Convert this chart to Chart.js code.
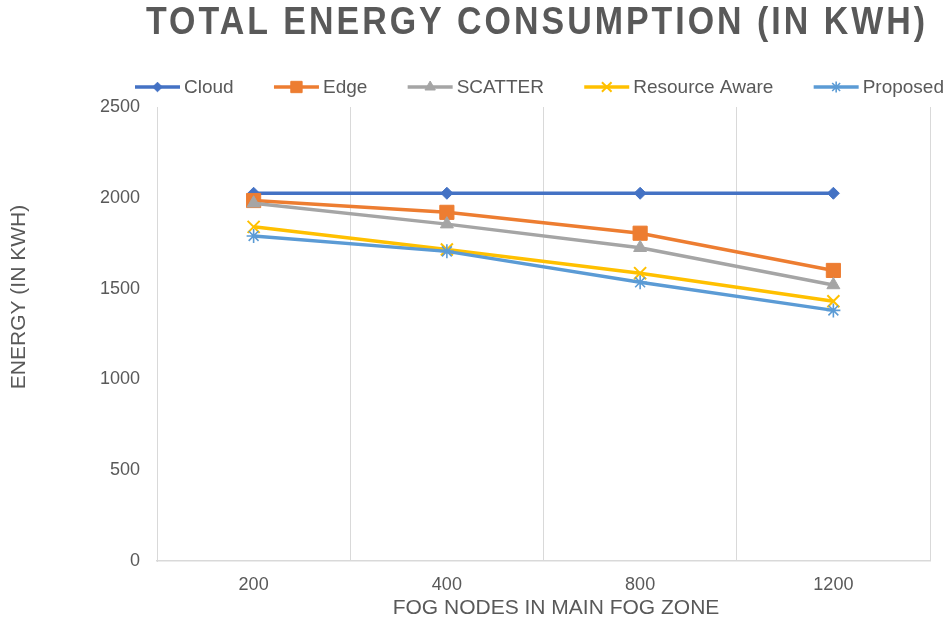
<!DOCTYPE html>
<html>
<head>
<meta charset="utf-8">
<script src="https://cdn.jsdelivr.net/npm/chart.js@4.4.1/dist/chart.umd.min.js"></script>
<style>
  html, body { margin: 0; padding: 0; background: #ffffff; }
  #wrap { width: 947px; height: 623px; position: relative; }
</style>
</head>
<body>
<div id="wrap"><canvas id="c" width="947" height="623"></canvas></div>
<script>
// Fog node counts in the main fog zone
const categories = ['200', '400', '800', '1200'];

// Energy consumption per approach (kWh)
const cloud         = [2025, 2025, 2025, 2025];
const edge          = [1985, 1920, 1805, 1600];
const scatter       = [1970, 1855, 1725, 1520];
const resourceAware = [1840, 1715, 1585, 1430];
const proposed      = [1790, 1705, 1535, 1380];

const seriesNames = ['Cloud', 'Edge', 'SCATTER', 'Resource Aware', 'Proposed'];
const yTicks = [0, 500, 1000, 1500, 2000, 2500];

const chartTitle = 'TOTAL ENERGY CONSUMPTION (IN KWH)';
const xTitle = 'FOG NODES IN MAIN FOG ZONE';
const yTitle = 'ENERGY (IN KWH)';

const TEXT = '#595959';
const GRID = '#d9d9d9';
const FONT = "'Liberation Sans', Arial, sans-serif";

const styles = [
  { color: '#4472C4', pointStyle: 'rectRot',  radius: 6,   borderWidth: 1 },
  { color: '#ED7D31', pointStyle: 'rect',     radius: 10,  borderWidth: 1 },
  { color: '#A5A5A5', pointStyle: 'triangle', radius: 7.5, borderWidth: 1 },
  { color: '#FFC000', pointStyle: 'crossRot', radius: 8.5, borderWidth: 2 },
  { color: '#5B9BD5', pointStyle: 'star',     radius: 7,   borderWidth: 1.6 }
];
const values = [cloud, edge, scatter, resourceAware, proposed];

const datasets = values.map((data, i) => ({
  label: seriesNames[i],
  data: data,
  borderColor: styles[i].color,
  backgroundColor: styles[i].color,
  borderWidth: 3.5,
  tension: 0,
  pointStyle: styles[i].pointStyle,
  pointRadius: styles[i].radius,
  pointBorderWidth: styles[i].borderWidth,
  pointBackgroundColor: styles[i].color,
  pointBorderColor: styles[i].color,
  order: values.length - 1 - i   // later series are painted on top
}));

function drawMarker(ctx, st, x, y, scale) {
  ctx.save();
  ctx.fillStyle = st.color;
  ctx.strokeStyle = st.color;
  ctx.lineWidth = st.borderWidth;
  if (Chart.helpers && Chart.helpers.drawPoint) {
    Chart.helpers.drawPoint(ctx, { pointStyle: st.pointStyle, radius: st.radius * scale, borderWidth: st.borderWidth, rotation: 0 }, x, y);
  }
  ctx.restore();
}

// Spaced-out text: glyphs squeezed horizontally, then spread to a given width
function spacedText(ctx, text, cx, cy, targetW, squeeze) {
  ctx.save();
  ctx.translate(cx, cy);
  ctx.scale(squeeze, 1);
  const rawW = ctx.measureText(text).width;
  const spacing = Math.max(0, (targetW / squeeze - rawW) / (text.length - 1));
  ctx.letterSpacing = spacing + 'px';
  const w = rawW + spacing * (text.length - 1);
  ctx.textAlign = 'left';
  ctx.fillText(text, -w / 2, 0);
  ctx.restore();
}

// Title, legend and axis titles painted straight onto the canvas
const decorations = {
  id: 'decorations',
  afterDraw(chart) {
    const ctx = chart.ctx;
    ctx.save();
    ctx.fillStyle = TEXT;
    ctx.textBaseline = 'middle';

    // title
    ctx.font = "bold 39px " + FONT;
    spacedText(ctx, chartTitle, 535.5, 23, 779, 0.87);

    // axis titles
    ctx.font = "21px " + FONT;
    ctx.textAlign = 'center';
    ctx.fillText(xTitle, 556, 608);
    ctx.save();
    ctx.translate(19, 297);
    ctx.rotate(-Math.PI / 2);
    ctx.font = "21px " + FONT;
    ctx.fillText(yTitle, 0, 0);
    ctx.restore();

    // legend
    ctx.font = "19px " + FONT;
    const lineLen = 45, textGap = 4;
    const left = 135, right = 944;
    const widths = seriesNames.map(n => ctx.measureText(n).width);
    const used = widths.reduce((a, b) => a + b + lineLen + textGap, 0);
    const itemGap = (right - left - used) / (seriesNames.length - 1);
    let x = left;
    const ly = 87;
    seriesNames.forEach((name, i) => {
      const st = styles[i];
      ctx.strokeStyle = st.color;
      ctx.lineWidth = 3.5;
      ctx.beginPath();
      ctx.moveTo(x, ly);
      ctx.lineTo(x + lineLen, ly);
      ctx.stroke();
      drawMarker(ctx, st, x + lineLen / 2, ly, 0.8);
      ctx.fillStyle = TEXT;
      ctx.textAlign = 'left';
      ctx.textBaseline = 'middle';
      ctx.fillText(name, x + lineLen + textGap, ly + 1);
      x += lineLen + textGap + widths[i] + itemGap;
    });
    ctx.restore();
  }
};

new Chart(document.getElementById('c'), {
  type: 'line',
  data: { labels: categories, datasets: datasets },
  options: {
    responsive: false,
    animation: false,
    layout: { padding: { top: 107, right: 17, left: 0, bottom: 0 } },
    plugins: {
      legend: { display: false },
      title: { display: false },
      tooltip: { enabled: false }
    },
    scales: {
      x: {
        type: 'category',
        offset: true,
        grid: { display: true, offset: true, color: GRID, lineWidth: 1, drawTicks: false },
        border: { display: true, color: GRID, width: 1.5 },
        ticks: { color: TEXT, font: { family: FONT, size: 18 }, padding: 13 },
        title: { display: false },
        afterFit(scale) { scale.height = 62; }
      },
      y: {
        min: 0,
        max: 2500,
        afterBuildTicks(scale) { scale.ticks = yTicks.map(v => ({ value: v })); },
        grid: { display: false, drawTicks: false },
        border: { display: true, color: GRID, width: 1 },
        ticks: { color: TEXT, font: { family: FONT, size: 18 }, padding: 17, callback: v => String(v) },
        title: { display: false },
        afterFit(scale) { scale.width = 157; }
      }
    }
  },
  plugins: [decorations]
});
</script>
</body>
</html>
